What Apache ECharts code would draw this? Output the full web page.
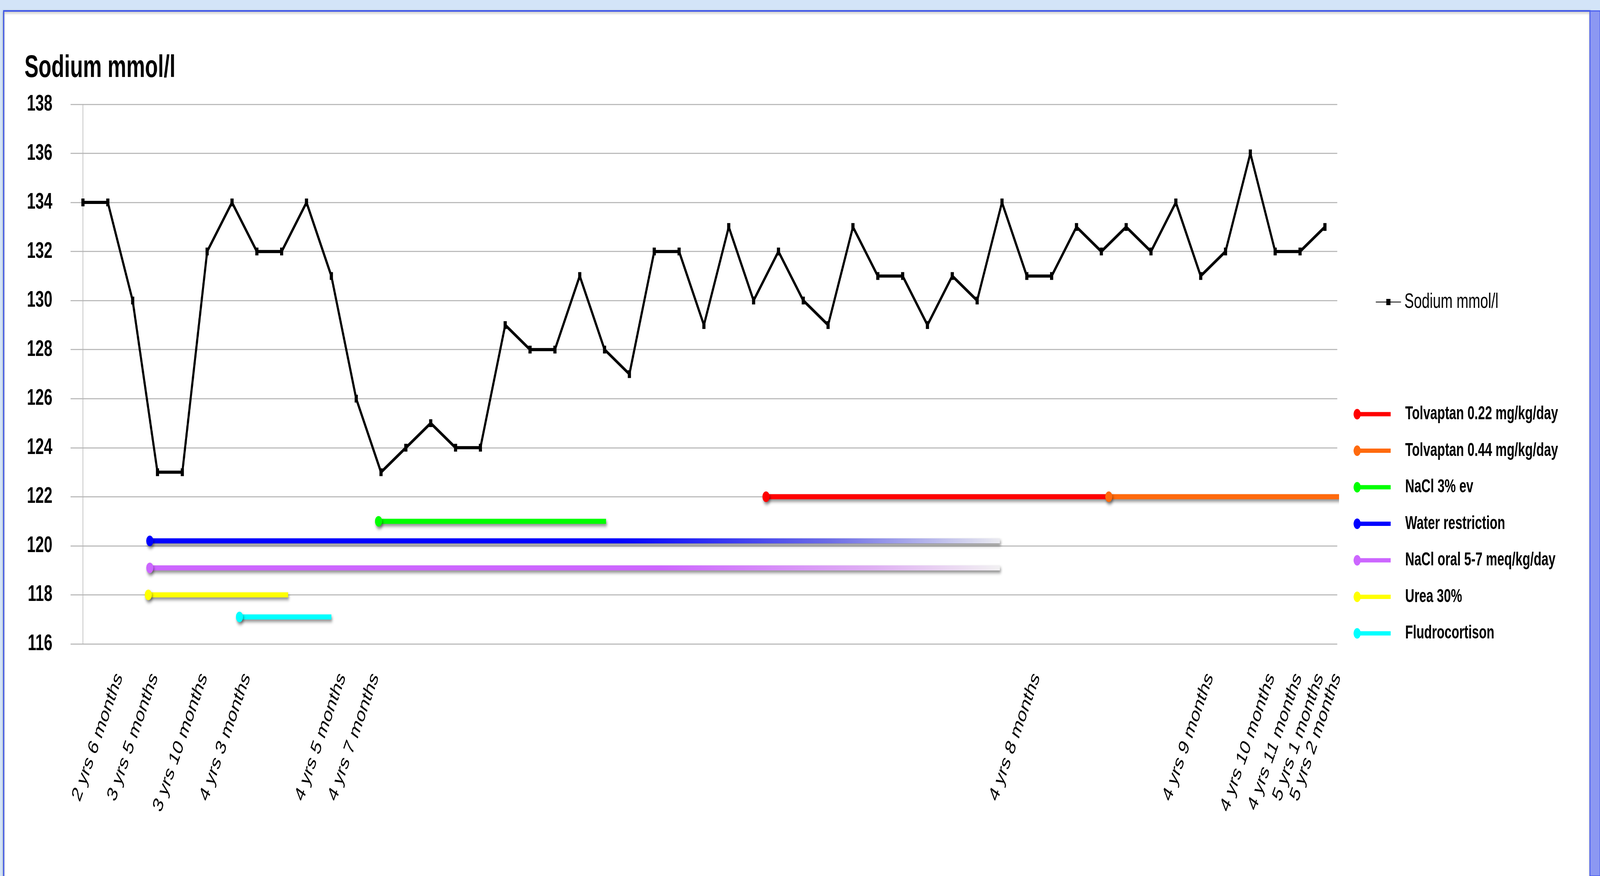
<!DOCTYPE html>
<html>
<head>
<meta charset="utf-8">
<script src="https://cdn.jsdelivr.net/npm/echarts@6/dist/echarts.min.js"></script>
<style>
html,body{margin:0;padding:0;background:#d3e4f8;overflow:hidden;}
#chart{width:6078px;height:2242px;transform-origin:0 0;position:absolute;left:0;top:0;}
</style>
</head>
<body>
<div id="chart"></div>
<script>
// ---- data ----
const sodium = [134,134,130,123,123,132,134,132,132,134,131,126,123,124,125,124,124,129,128,128,131,128,127,132,132,129,133,130,132,130,129,133,131,131,129,131,130,134,131,131,133,132,133,132,134,131,132,136,132,132,133];
const visits = sodium.map((_, i) => String(i + 1));

const tickLabels = ['2 yrs 6 months','3 yrs 5 months','3 yrs 10 months','4 yrs 3 months','4 yrs 5 months','4 yrs 7 months','4 yrs 8 months','4 yrs 9 months','4 yrs 10 months','4 yrs 11 months','5 yrs 1 months','5 yrs 2 months'];
const tickPositions = [1.46, 2.88, 4.87, 6.6, 10.44, 11.77, 38.39, 45.37, 47.84, 48.93, 49.8, 50.5];

const treatmentNames = ['Tolvaptan 0.22 mg/kg/day','Tolvaptan 0.44 mg/kg/day','NaCl 3% ev','Water restriction','NaCl oral 5-7 meq/kg/day','Urea 30%','Fludrocortison'];
const treatmentLevel = [122, 122, 121, 120.2, 119.1, 118, 117.1];
const treatmentStart = [27.5, 41.3, 11.9, 2.69, 2.69, 2.63, 6.3];
const treatmentEnd   = [41.3, 50.6, 21.06, 36.92, 36.92, 8.26, 10.0];

const yMin = 116, yMax = 138, yStep = 2;

// ---- fit the 6078x2242 design into the actual viewport ----
const DESIGN_W = 6078, DESIGN_H = 2242;
const el = document.getElementById('chart');
const vw = window.innerWidth || DESIGN_W, vh = window.innerHeight || DESIGN_H;
el.style.transform = 'scale(' + (vw / DESIGN_W) + ',' + (vh / DESIGN_H) + ')';

// ---- styles ----
const treatmentColors = ['#ff0000','#ff6a0d','#00ff00','#0000ff','#cc66ff','#ffff00','#00ffff'];
const fadeStops = {
  3: [[0,'#0000ff'],[0.55,'#0000ff'],[0.8,'#6e6ee6'],[1,'#ececf0']],
  4: [[0,'#cc66ff'],[0.6,'#cc66ff'],[0.85,'#dfb0f3'],[1,'#f2f2f2']]
};
const FONT = "'Liberation Sans', Arial, sans-serif";
const legendIcon = 'path://M0,13.5A13.5,13.5,0,1,1,27,13.5A13.5,13.5,0,1,1,0,13.5Z M13,8L141,8L141,19L13,19Z';

const chart = echarts.init(el, null, {renderer: 'canvas', width: DESIGN_W, height: DESIGN_H});

const treatmentSeries = treatmentNames.map((name, i) => {
  const lineColor = fadeStops[i]
    ? new echarts.graphic.LinearGradient(0, 0, 1, 0, fadeStops[i].map(s => ({offset: s[0], color: s[1]})))
    : treatmentColors[i];
  return {
    name: name,
    type: 'line',
    xAxisIndex: 1,
    yAxisIndex: 0,
    clip: false,
    z: 3,
    showSymbol: true,
    data: [
      {value: [treatmentStart[i], treatmentLevel[i]], symbol: 'circle', symbolSize: 27},
      {value: [treatmentEnd[i], treatmentLevel[i]], symbol: 'none'}
    ],
    lineStyle: {
      width: 13, color: lineColor, cap: 'butt',
      shadowColor: 'rgba(0,0,0,0.45)', shadowBlur: 8, shadowOffsetX: 3, shadowOffsetY: 6
    },
    itemStyle: {
      color: treatmentColors[i],
      shadowColor: 'rgba(0,0,0,0.45)', shadowBlur: 8, shadowOffsetX: 3, shadowOffsetY: 6
    },
    emphasis: {disabled: true}
  };
});

const option = {
  animation: false,
  backgroundColor: '#d3e4f8',
  graphic: [
    {type: 'rect', z: -100, shape: {x: 14, y: 28, width: 6026, height: 2240},
     style: {fill: '#ffffff', stroke: '#3f56e8', lineWidth: 4, shadowColor: 'rgba(0,0,0,0.35)', shadowBlur: 6, shadowOffsetY: 3}},
    {type: 'rect', z: -99, shape: {x: 6040, y: 28, width: 38, height: 2214},
     style: {fill: '#8c98f2', stroke: '#4a5ef0', lineWidth: 3}}
  ],
  title: {
    text: 'Sodium mmol/l',
    left: 88, top: 128,
    textStyle: {fontFamily: FONT, fontSize: 80, fontWeight: 'bold', color: '#000', lineHeight: 84}
  },
  grid: {left: 268, right: 998, top: 267, bottom: 594, containLabel: false},
  xAxis: [
    {
      type: 'category',
      data: visits,
      boundaryGap: true,
      position: 'bottom',
      axisLine: {show: false},
      axisTick: {show: false},
      axisLabel: {show: false},
      splitLine: {show: false}
    },
    {
      type: 'value',
      min: -0.5, max: 50.5,
      position: 'bottom',
      axisLine: {show: false},
      axisTick: {show: false},
      splitLine: {show: false},
      axisLabel: {
        customValues: tickPositions,
        rotate: 63,
        margin: 78,
        fontFamily: FONT,
        fontSize: 55,
        color: '#000',
        formatter: function (v) {
          const k = tickPositions.findIndex(p => Math.abs(p - v) < 1e-6);
          return k >= 0 ? tickLabels[k] : '';
        }
      }
    }
  ],
  yAxis: {
    type: 'value',
    min: yMin, max: yMax, interval: yStep,
    axisLine: {show: true, lineStyle: {color: '#ababab', width: 2}},
    axisTick: {show: true, length: 21, lineStyle: {color: '#bdbdbd', width: 3}},
    axisLabel: {margin: 69, fontFamily: FONT, fontSize: 58, fontWeight: 'bold', color: '#000'},
    splitLine: {show: true, lineStyle: {color: '#bdbdbd', width: 3}}
  },
  legend: [
    {
      data: ['Sodium mmol/l'],
      orient: 'vertical',
      left: 5220, top: 740,
      itemWidth: 96, itemHeight: 20,
      selectedMode: false,
      textStyle: {fontFamily: FONT, fontSize: 54, color: '#000', lineHeight: 56, padding: [0,0,0,8]}
    },
    {
      data: treatmentNames.map((n, i) => ({name: n, icon: legendIcon, itemStyle: {color: treatmentColors[i], borderWidth: 0}})),
      orient: 'vertical',
      left: 5137, top: 1030,
      itemWidth: 141, itemHeight: 27,
      itemGap: 43.5,
      selectedMode: false,
      textStyle: {fontFamily: FONT, fontSize: 48, fontWeight: 'bold', color: '#000', lineHeight: 50, padding: [0,0,0,50]}
    }
  ],
  series: [
    {
      name: 'Sodium mmol/l',
      type: 'line',
      xAxisIndex: 0,
      yAxisIndex: 0,
      data: sodium,
      symbol: 'rect',
      symbolSize: [12, 20],
      z: 4,
      lineStyle: {color: '#000', width: 8},
      itemStyle: {color: '#000'},
      emphasis: {disabled: true}
    }
  ].concat(treatmentSeries)
};

chart.setOption(option);
</script>
</body>
</html>
